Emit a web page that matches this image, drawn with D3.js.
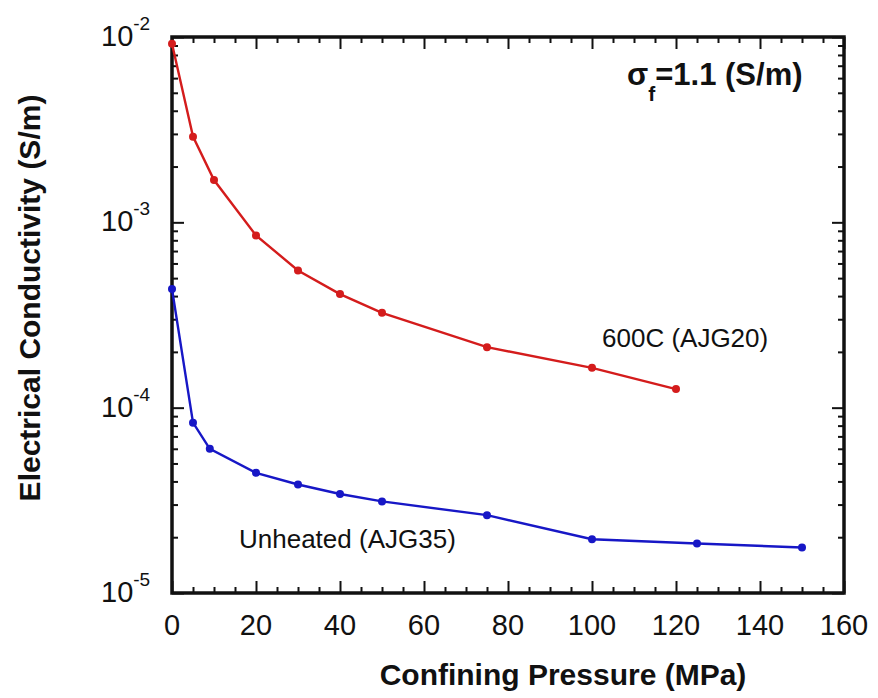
<!DOCTYPE html>
<html>
<head>
<meta charset="utf-8">
<script src="https://cdn.jsdelivr.net/npm/d3@7"></script>
<style>
  body { margin: 0; background: #fff; }
  text { font-family: "Liberation Sans", Arial, sans-serif; fill: #111; }
</style>
</head>
<body>
<svg id="chart" width="878" height="698"></svg>
<script>
// values
const pressureHeated = [0, 5, 10, 20, 30, 40, 50, 75, 100, 120];
const conductivityHeated = [9.2e-3, 2.9e-3, 1.69e-3, 8.5e-4, 5.5e-4, 4.1e-4, 3.25e-4, 2.12e-4, 1.64e-4, 1.26e-4];
const pressureUnheated = [0, 5, 9, 20, 30, 40, 50, 75, 100, 125, 150];
const conductivityUnheated = [4.37e-4, 8.3e-5, 6.0e-5, 4.45e-5, 3.85e-5, 3.42e-5, 3.12e-5, 2.63e-5, 1.95e-5, 1.85e-5, 1.76e-5];
const xTickValues = [0, 20, 40, 60, 80, 100, 120, 140, 160];
const yExponents = [-2, -3, -4, -5];

const svg = d3.select('#chart');
const margin = {left: 172, top: 37, right: 34, bottom: 105};
const width = 878 - margin.left - margin.right;
const height = 698 - margin.top - margin.bottom;
const chart = svg.append('g').attr('transform', `translate(${margin.left}, ${margin.top})`);

const xScale = d3.scaleLinear().domain([0, 160]).range([0, width]);
const yScale = d3.scaleLog().domain([1e-5, 1e-2]).range([height, 0]);

const xMinor = d3.range(0, 161, 5).filter(v => v % 20 !== 0);
const yMajor = yExponents.map(e => Math.pow(10, e));
const yMinor = [];
[-5, -4, -3].forEach(e => { for (let k = 2; k <= 9; k++) yMinor.push(k * Math.pow(10, e)); });

const majorLen = 12, minorLen = 6;

function styleAxis(g) {
    g.select('.domain').remove();
    g.selectAll('.tick line').attr('stroke', '#111').attr('stroke-width', 2);
    g.selectAll('.tick text').remove();
}

// ticks, all pointing inward
chart.append('g').attr('transform', `translate(0, ${height})`)
    .call(d3.axisBottom(xScale).tickValues(xTickValues).tickSize(-majorLen)).call(styleAxis);
chart.append('g').attr('transform', `translate(0, ${height})`)
    .call(d3.axisBottom(xScale).tickValues(xMinor).tickSize(-minorLen)).call(styleAxis);
chart.append('g')
    .call(d3.axisTop(xScale).tickValues(xTickValues).tickSize(-majorLen)).call(styleAxis);
chart.append('g')
    .call(d3.axisTop(xScale).tickValues(xMinor).tickSize(-minorLen)).call(styleAxis);
chart.append('g')
    .call(d3.axisLeft(yScale).tickValues(yMajor).tickSize(-majorLen)).call(styleAxis);
chart.append('g')
    .call(d3.axisLeft(yScale).tickValues(yMinor).tickSize(-minorLen)).call(styleAxis);
chart.append('g').attr('transform', `translate(${width}, 0)`)
    .call(d3.axisRight(yScale).tickValues(yMajor).tickSize(-majorLen)).call(styleAxis);
chart.append('g').attr('transform', `translate(${width}, 0)`)
    .call(d3.axisRight(yScale).tickValues(yMinor).tickSize(-minorLen)).call(styleAxis);

// frame
chart.append('rect')
    .attr('width', width).attr('height', height)
    .attr('fill', 'none').attr('stroke', '#111').attr('stroke-width', 3.5);

// x tick labels
chart.selectAll('.x-label')
    .data(xTickValues).enter()
    .append('text')
    .attr('x', d => xScale(d))
    .attr('y', height + 42)
    .attr('text-anchor', 'middle')
    .attr('font-size', 29)
    .text(d => d);

// y tick labels as 10^n
const yLabels = chart.selectAll('.y-label')
    .data(yExponents).enter()
    .append('text')
    .attr('x', -71)
    .attr('y', d => yScale(Math.pow(10, d)) + 9)
    .attr('font-size', 29);
yLabels.append('tspan').text('10');
yLabels.append('tspan').attr('dy', -16).attr('font-size', 19).text(d => d);

// series
const series = [
    {x: pressureHeated, y: conductivityHeated, color: '#d41c1c'},
    {x: pressureUnheated, y: conductivityUnheated, color: '#1717c6'}
];
const line = d3.line().x(d => xScale(d[0])).y(d => yScale(d[1]));
series.forEach(s => {
    const pts = d3.zip(s.x, s.y);
    chart.append('path')
        .datum(pts)
        .attr('d', line)
        .attr('fill', 'none')
        .attr('stroke', s.color)
        .attr('stroke-width', 2.4);
    chart.selectAll(null)
        .data(pts).enter()
        .append('circle')
        .attr('cx', d => xScale(d[0]))
        .attr('cy', d => yScale(d[1]))
        .attr('r', 4)
        .attr('fill', s.color);
});

// annotations
chart.append('text')
    .attr('x', 430).attr('y', 310)
    .attr('font-size', 26)
    .text('600C (AJG20)');
chart.append('text')
    .attr('x', 67).attr('y', 511)
    .attr('font-size', 26)
    .text('Unheated (AJG35)');

const sigma = chart.append('text')
    .attr('x', 455).attr('y', 48)
    .attr('font-size', 31)
    .attr('font-weight', 'bold');
sigma.append('tspan').text('σ');
sigma.append('tspan').attr('dy', 16).attr('font-size', 21).text('f');
sigma.append('tspan').attr('dy', -16).text('=1.1 (S/m)');

// axis titles
svg.append('text')
    .attr('x', 563).attr('y', 685)
    .attr('text-anchor', 'middle')
    .attr('font-size', 30)
    .attr('font-weight', 'bold')
    .text('Confining Pressure (MPa)');
svg.append('text')
    .attr('transform', 'translate(40, 298) rotate(-90)')
    .attr('text-anchor', 'middle')
    .attr('font-size', 30)
    .attr('font-weight', 'bold')
    .text('Electrical Conductivity (S/m)');
</script>
</body>
</html>
